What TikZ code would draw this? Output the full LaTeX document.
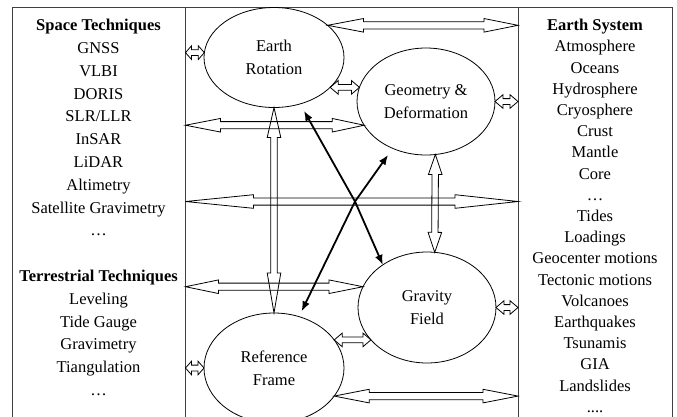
\documentclass[tikz,border=0pt]{standalone}
\usepackage{fontspec}
\setmainfont{Liberation Serif}
\usetikzlibrary{arrows.meta}
\usetikzlibrary{calc}
\usetikzlibrary{shapes.geometric}

\def\hw{6.8pt}
\newcommand{\hollowarrow}[5][3.6pt]{%
  \draw[hollow] (#2)
    -- ($(#2)!#4!(#3)!\hw!90:(#3)$) -- ($(#2)!#4!(#3)!#1!90:(#3)$)
    -- ($(#3)!#5!(#2)!#1!-90:(#2)$) -- ($(#3)!#5!(#2)!\hw!-90:(#2)$)
    -- (#3)
    -- ($(#3)!#5!(#2)!\hw!90:(#2)$) -- ($(#3)!#5!(#2)!#1!90:(#2)$)
    -- ($(#2)!#4!(#3)!#1!-90:(#3)$) -- ($(#2)!#4!(#3)!\hw!-90:(#3)$)
    -- cycle;}

\begin{document}
\begin{tikzpicture}[x=1pt, y=-1pt,
		every node/.style={font=\fontsize{16.5}{22.8}\selectfont},
		body/.style={draw, ellipse, inner sep=0pt, outer sep=0pt, align=center, line width=0.8pt},
		col/.style={inner sep=0pt, align=center, anchor=north},
		hollow/.style={draw, line width=0.8pt, line join=miter},
		blk/.style={line width=1.8pt, -{Latex[length=10pt,width=8pt]}}]
		\useasboundingbox (0,0) rectangle (677,416);
		\draw[line width=1pt, black!75] (12,7) rectangle (672,430);
		\draw[line width=1pt, black!75] (185.5,7) -- (185.5,430) (518,7) -- (518,430);
		\coordinate (L) at (185.5,0);
		\coordinate (R) at (518,0);
		\coordinate (hub) at (355,201.5);

		% the four fields
		\node[body, minimum width=140pt, minimum height=100pt] (er) at (274,57.5) {Earth\\Rotation};
		\node[body, minimum width=138pt, minimum height=107pt] (geo) at (426,101.5) {Geometry \&\\Deformation};
		\node[body, minimum width=138pt, minimum height=111pt] (grav) at (427,307.5) {Gravity\\Field};
		\node[body, minimum width=140pt, minimum height=110pt] (rf) at (274,368) {Reference\\Frame};

		\node[col] (tech) at (98.5,19) {\textbf{Space Techniques}\\GNSS\\VLBI\\DORIS\\SLR/LLR\\InSAR\\LiDAR\\Altimetry\\Satellite Gravimetry\\\ldots\\[22.8pt]\textbf{Terrestrial Techniques}\\Leveling\\Tide Gauge\\Gravimetry\\Tiangulation\\\ldots};
		\node[col, font=\fontsize{16.5}{21.2}\selectfont] (sys) at (595,19) {\textbf{Earth System}\\Atmosphere\\Oceans\\Hydrosphere\\Cryosphere\\Crust\\Mantle\\Core\\\ldots\\Tides\\Loadings\\Geocenter motions\\Tectonic motions\\Volcanoes\\Earthquakes\\Tsunamis\\GIA\\Landslides\\....};

		% ends on the column borders
		\coordinate (ra) at (er.31 -| R);
		\coordinate (la) at (er.176 -| L);
		\coordinate (rb) at (geo.east -| R);
		\coordinate (lb) at (geo.201 -| L);
		\coordinate (lc) at (hub -| L);
		\coordinate (rc) at (hub -| R);
		\coordinate (ld) at (grav.162 -| L);
		\coordinate (le) at (rf.west -| L);
		\coordinate (re) at (grav.east -| R);
		\coordinate (rg) at (rf.-25 -| R);

		\hollowarrow{er.31}{ra}{36pt}{34pt}
		\hollowarrow[2.9pt]{la}{er.176}{6pt}{6pt}
		\hollowarrow[2.9pt]{er.-28}{geo.168}{8pt}{8pt}
		\hollowarrow[2.9pt]{geo.east}{rb}{8pt}{8pt}
		\hollowarrow{lb}{geo.201}{35pt}{32pt}
		\hollowarrow[3.2pt]{er.south}{rf.north}{30pt}{40pt}
		\hollowarrow{lc}{rc}{68pt}{63pt}
		\hollowarrow[3.2pt]{geo.-80}{grav.82}{20pt}{20pt}
		\hollowarrow{ld}{grav.162}{33pt}{34pt}
		\hollowarrow[2.9pt]{rf.25}{grav.210}{8pt}{8pt}
		\hollowarrow[2.9pt]{le}{rf.west}{6pt}{6pt}
		\hollowarrow[2.9pt]{grav.east}{re}{8pt}{8pt}
		\hollowarrow{rf.-25}{rg}{35pt}{35pt}

		\draw[blk, shorten >=8pt] (hub) -- (er);
		\draw[blk, shorten >=8pt] (hub) -- (geo);
		\draw[blk] (hub) -- (grav.136);
		\draw[blk, shorten >=6pt] (hub) -- (rf);
\end{tikzpicture}
\end{document}
